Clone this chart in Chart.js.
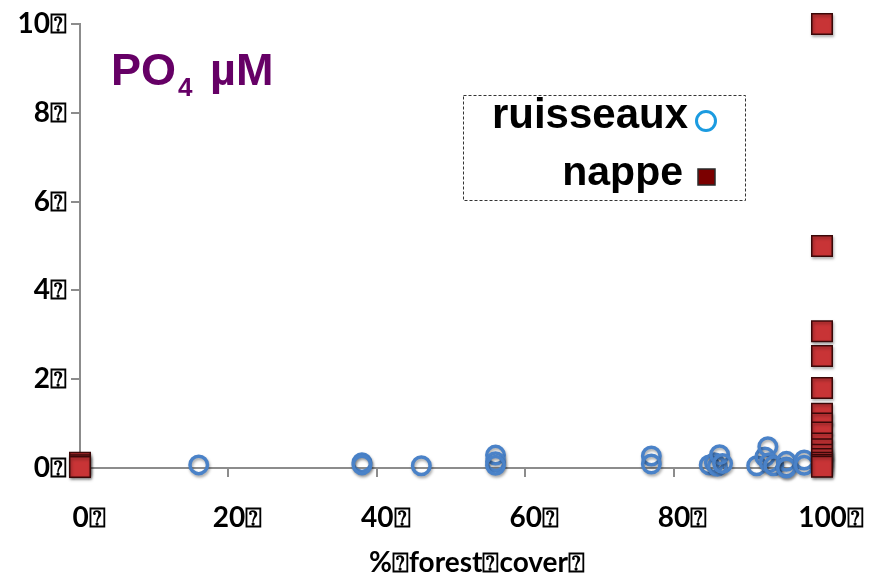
<!DOCTYPE html>
<html>
<head>
<meta charset="utf-8">
<script src="https://cdn.jsdelivr.net/npm/chart.js@4/dist/chart.umd.min.js"></script>
<style>
  html, body { margin: 0; padding: 0; background: #fff; }
  #wrap { width: 869px; height: 577px; }
</style>
</head>
<body>
<div id="wrap"><canvas id="c" width="869" height="577"></canvas></div>
<script>
// Stream samples: % forest cover of the catchment and phosphate (µM)
const ruisseauxCover = [16, 38, 38, 46, 56, 56, 56, 77, 77, 84.8, 85.5, 85.9, 86.2, 86.6, 91.2, 92.3, 92.7, 92.9, 93.5, 95.2, 95.2, 95.2, 97.6, 97.6];
const ruisseauxPO4   = [0.07, 0.12, 0.07, 0.05, 0.29, 0.14, 0.06, 0.27, 0.09, 0.07, 0.12, 0.04, 0.30, 0.10, 0.05, 0.25, 0.48, 0.12, 0.05, 0.15, 0.02, 0.00, 0.18, 0.06];

// Groundwater samples
const nappeCover = [0, 0, 0, 100, 100, 100, 100, 100, 100, 100, 100, 100, 100, 100, 100, 100, 100, 100];
const nappePO4   = [0.12, 0.06, 0.02, 10, 5, 3.08, 2.52, 1.8, 1.22, 1.0, 0.8, 0.55, 0.42, 0.3, 0.2, 0.12, 0.07, 0.03];

// Axis tick labels
const xTickLabels = ['0\u2370', '20\u2370', '40\u2370', '60\u2370', '80\u2370', '100\u2370'];
const yTickLabels = ['0\u2370', '2\u2370', '4\u2370', '6\u2370', '8\u2370', '10\u2370'];
const xAxisTitle = '%\u2370forest\u2370cover\u2370';

const toPoints = (xs, ys) => xs.map((x, i) => ({ x: x, y: ys[i] }));

const tickFont = { family: 'Lato, "Open Sans", sans-serif', weight: 'bold', size: 28 };
const axisGray = '#8c8c8c';

// Soft drop shadow under the markers
const shadowPlugin = {
  id: 'markerShadow',
  beforeDatasetsDraw(chart) {
    const ctx = chart.ctx;
    ctx.save();
    ctx.shadowColor = 'rgba(0,0,0,0.35)';
    ctx.shadowBlur = 3;
    ctx.shadowOffsetX = 1;
    ctx.shadowOffsetY = 2;
  },
  afterDatasetsDraw(chart) {
    chart.ctx.restore();
  }
};

// Title, legend box and x-axis title
const decorPlugin = {
  id: 'decor',
  afterDraw(chart) {
    const ctx = chart.ctx;
    const area = chart.chartArea;
    ctx.save();

    // PO4 µM
    ctx.fillStyle = '#660066';
    ctx.textBaseline = 'alphabetic';
    ctx.textAlign = 'left';
    let x = 111;
    ctx.font = 'bold 45px "Liberation Sans", Arial, sans-serif';
    ctx.fillText('PO', x, 85);
    x += ctx.measureText('PO').width;
    ctx.font = 'bold 26px "Liberation Sans", Arial, sans-serif';
    ctx.fillText('4', x + 2, 96);
    x += ctx.measureText('4').width + 2;
    ctx.font = 'bold 45px "Liberation Sans", Arial, sans-serif';
    ctx.fillText(' \u00b5M', x + 5, 85);

    // legend box
    ctx.strokeStyle = '#333';
    ctx.lineWidth = 1;
    ctx.setLineDash([3, 2]);
    ctx.strokeRect(463.5, 95.5, 282, 105);
    ctx.setLineDash([]);

    ctx.fillStyle = '#000';
    ctx.textAlign = 'right';
    ctx.font = 'bold 42px "Liberation Sans", Arial, sans-serif';
    ctx.fillText('ruisseaux', 688, 128);
    ctx.font = 'bold 41px "Liberation Sans", Arial, sans-serif';
    ctx.fillText('nappe', 683, 185);

    ctx.beginPath();
    ctx.arc(706, 121, 9.5, 0, Math.PI * 2);
    ctx.lineWidth = 3;
    ctx.strokeStyle = '#1b9be0';
    ctx.stroke();

    ctx.fillStyle = '#7b0000';
    ctx.fillRect(698, 169, 17, 16);
    ctx.lineWidth = 1.5;
    ctx.strokeStyle = '#2a2a2a';
    ctx.strokeRect(698, 169, 17, 16);

    // x-axis title
    ctx.fillStyle = '#000';
    ctx.textAlign = 'center';
    ctx.font = 'bold 28px Lato, "Open Sans", sans-serif';
    ctx.fillText(xAxisTitle, (area.left + area.right) / 2 + 26, 572);

    ctx.restore();
  }
};

new Chart(document.getElementById('c'), {
  type: 'scatter',
  data: {
    datasets: [
      {
        label: 'ruisseaux',
        data: toPoints(ruisseauxCover, ruisseauxPO4),
        pointStyle: 'circle',
        pointRadius: 8.75,
        pointBorderWidth: 3.5,
        pointBorderColor: '#4a82c8',
        pointBackgroundColor: 'rgba(255,255,255,0)',
        order: 1,
        clip: false
      },
      {
        label: 'nappe',
        data: toPoints(nappeCover, nappePO4),
        pointStyle: 'rect',
        pointRadius: 14.5,
        pointBorderWidth: 1.5,
        pointBorderColor: '#3a0808',
        pointBackgroundColor: '#c83436',
        order: 0,
        clip: false
      }
    ]
  },
  options: {
    responsive: false,
    animation: false,
    events: [],
    layout: { padding: { top: 24, right: 47, left: 0, bottom: 0 } },
    plugins: {
      legend: { display: false },
      tooltip: { enabled: false }
    },
    scales: {
      x: {
        type: 'linear',
        min: 0,
        max: 100,
        ticks: {
          stepSize: 20,
          padding: 24,
          labelOffset: 9,
          maxRotation: 0,
          color: '#000',
          font: tickFont,
          callback: v => xTickLabels[Math.round(v / 20)]
        },
        grid: { drawOnChartArea: false, drawTicks: true, tickLength: 9, color: axisGray, lineWidth: 2 },
        border: { color: axisGray, width: 2 },
        afterFit: s => { s.height = 109; s.paddingLeft = 0; s.paddingRight = 0; }
      },
      y: {
        type: 'linear',
        min: 0,
        max: 10,
        ticks: {
          stepSize: 2,
          padding: 4,
          color: '#000',
          font: tickFont,
          callback: v => yTickLabels[Math.round(v / 2)]
        },
        grid: { drawOnChartArea: false, drawTicks: true, tickLength: 9, color: axisGray, lineWidth: 2 },
        border: { color: axisGray, width: 2 },
        afterFit: s => { s.width = 80; s.paddingTop = 0; s.paddingBottom = 0; }
      }
    }
  },
  plugins: [shadowPlugin, decorPlugin]
});
</script>
</body>
</html>
